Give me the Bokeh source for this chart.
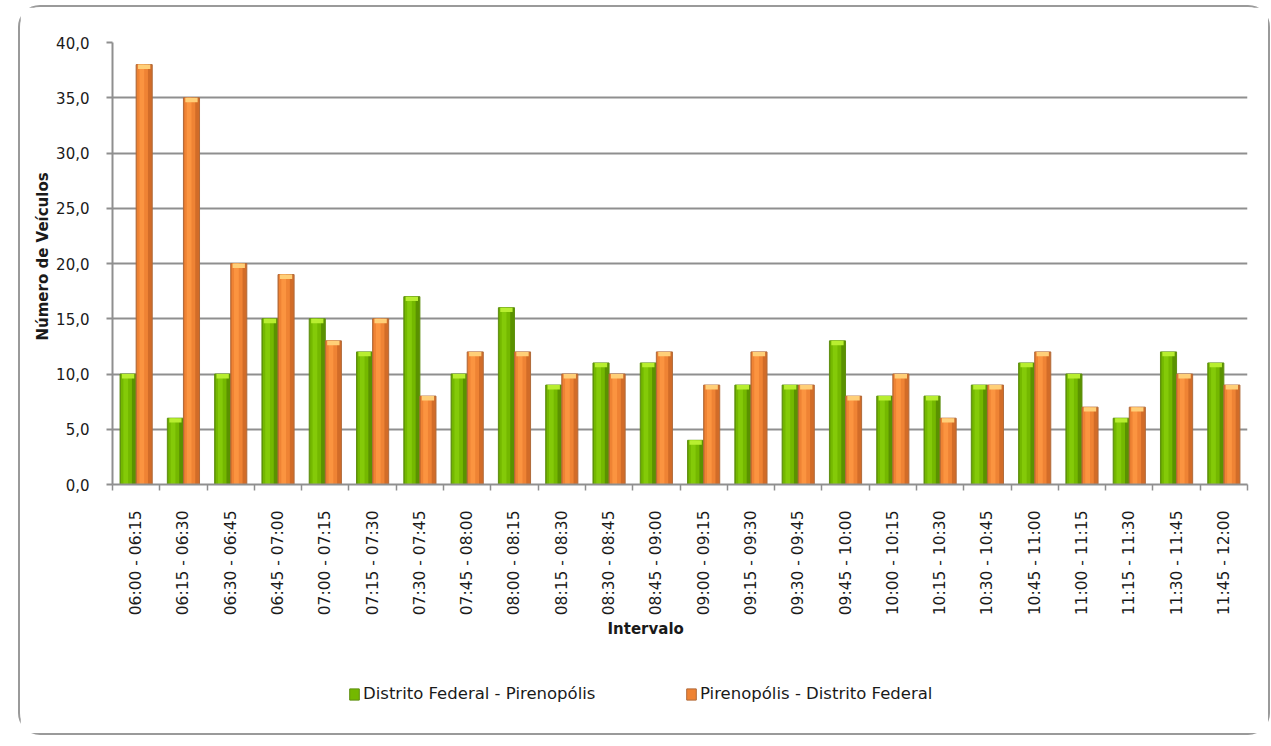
import math
from bokeh.plotting import figure
from bokeh.layouts import column
from bokeh.models import Range1d, FixedTicker, Legend, LegendItem, Title
from bokeh.embed import file_html
from bokeh.resources import INLINE

# ---------------- data ----------------
categories = [
    "06:00 - 06:15", "06:15 - 06:30", "06:30 - 06:45", "06:45 - 07:00",
    "07:00 - 07:15", "07:15 - 07:30", "07:30 - 07:45", "07:45 - 08:00",
    "08:00 - 08:15", "08:15 - 08:30", "08:30 - 08:45", "08:45 - 09:00",
    "09:00 - 09:15", "09:15 - 09:30", "09:30 - 09:45", "09:45 - 10:00",
    "10:00 - 10:15", "10:15 - 10:30", "10:30 - 10:45", "10:45 - 11:00",
    "11:00 - 11:15", "11:15 - 11:30", "11:30 - 11:45", "11:45 - 12:00",
]
df_pirenopolis = [10, 6, 10, 15, 15, 12, 17, 10, 16, 9, 11, 11, 4, 9, 9, 13, 8, 8, 9, 11, 10, 6, 12, 11]
pirenopolis_df = [38, 35, 20, 19, 13, 15, 8, 12, 12, 10, 10, 12, 9, 12, 9, 8, 10, 6, 9, 12, 7, 7, 10, 9]
series_names = ["Distrito Federal - Pirenopólis", "Pirenopólis - Distrito Federal"]
y_ticks = [0, 5, 10, 15, 20, 25, 30, 35, 40]
y_tick_labels = ["0,0", "5,0", "10,0", "15,0", "20,0", "25,0", "30,0", "35,0", "40,0"]
x_title = "Intervalo"
y_title = "Número de Veículos"

# ---------------- style ----------------
FONT = "DejaVu Sans"
GRID = "#8f8f8f"
TXT = "#1a1a1a"
GREEN = dict(edge="#5f8f10", dark="#5a9200", light="#74b800", hi="#84ca08", cap="#b8ee30")
ORANGE = dict(edge="#b06a3a", dark="#d26c28", light="#ef8334", hi="#fb9440", cap="#ffcf78")

n = len(categories)
centers = [i + 0.5 for i in range(n)]
bounds = [float(i) for i in range(n + 1)]

p = figure(
    width=1248, height=650,
    x_range=Range1d(0, n), y_range=Range1d(0, 40),
    output_backend="svg", toolbar_location=None,
    min_border_left=92, min_border_right=21, min_border_top=35, min_border_bottom=173,
)
p.outline_line_color = None
p.background_fill_color = "white"
p.border_fill_color = "white"

# x axis: labels at centres, ticks at category boundaries
xa = p.xaxis[0]
xa.ticker = FixedTicker(ticks=centers, minor_ticks=bounds)
xa.major_label_overrides = {c: lab for c, lab in zip(centers, categories)}
xa.major_tick_out = 0
xa.major_tick_in = 0
xa.minor_tick_out = 6
xa.minor_tick_in = 0
xa.minor_tick_line_color = GRID
xa.minor_tick_line_width = 1.5
xa.axis_line_color = GRID
xa.axis_line_width = 2
xa.major_label_orientation = math.pi / 2
xa.major_label_standoff = 20
xa.major_label_text_font = FONT
xa.major_label_text_font_size = "15.5px"
xa.major_label_text_color = TXT

ya = p.yaxis[0]
ya.ticker = FixedTicker(ticks=y_ticks, minor_ticks=[])
ya.major_label_overrides = {t: lab for t, lab in zip(y_ticks, y_tick_labels)}
ya.major_tick_out = 6
ya.major_tick_in = 0
ya.minor_tick_out = 0
ya.minor_tick_in = 0
ya.major_tick_line_color = GRID
ya.major_tick_line_width = 2
ya.axis_line_color = GRID
ya.axis_line_width = 2
ya.major_label_standoff = 17
ya.major_label_text_font = FONT
ya.major_label_text_font_size = "15px"
ya.major_label_text_color = TXT

p.xgrid.visible = False
p.ygrid.ticker = FixedTicker(ticks=y_ticks, minor_ticks=[])
p.ygrid.grid_line_color = GRID
p.ygrid.grid_line_width = 2

# ---------------- bars ----------------
half = 0.17
bw = 0.34

def draw_series(values, offset, c):
    xs = [x + offset for x in centers]
    p.vbar(x=xs, top=values, bottom=0, width=bw, fill_color=c["dark"],
           line_color=c["edge"], line_width=1)
    p.vbar(x=[x - 0.035 for x in xs], top=values, bottom=0, width=0.23,
           fill_color=c["light"], line_color=None)
    p.vbar(x=[x - 0.05 for x in xs], top=values, bottom=0, width=0.10,
           fill_color=c["hi"], line_color=None)
    p.vbar(x=xs, top=values, bottom=[v - 0.4 for v in values], width=0.26,
           fill_color=c["cap"], line_color=None)

draw_series(df_pirenopolis, -half, GREEN)
draw_series(pirenopolis_df, half, ORANGE)

# ---------------- axis titles (side panels) ----------------
p.add_layout(Title(text=y_title, align="left", offset=144, standoff=4,
                   vertical_align="bottom", text_font=FONT, text_font_style="bold",
                   text_font_size="15px", text_color=TXT), "left")
p.add_layout(Title(text=x_title, align="left", offset=495, standoff=2,
                   vertical_align="top", text_font=FONT, text_font_style="bold",
                   text_font_size="15px", text_color=TXT), "below")

# ---------------- legend strip ----------------
pl = figure(width=1248, height=76, x_range=Range1d(0, 1), y_range=Range1d(0, 1),
            x_axis_type=None, y_axis_type=None, output_backend="svg",
            toolbar_location=None, min_border=0)
pl.outline_line_color = None
pl.xgrid.visible = False
pl.ygrid.visible = False
# legend proxies (kept outside the visible range; only their swatches show)
lg = pl.vbar(x=[-1.0], top=[0.0], width=0.1, fill_color=GREEN["light"], line_color=GREEN["edge"])
lo = pl.vbar(x=[-1.0], top=[0.0], width=0.1, fill_color=ORANGE["light"], line_color=ORANGE["edge"])
legend = Legend(
    items=[LegendItem(label=series_names[0], renderers=[lg]),
           LegendItem(label=series_names[1], renderers=[lo])],
    location=(236, 30), orientation="horizontal",
    padding=0, margin=0, spacing=11, label_width=311,
    glyph_width=12, glyph_height=14, label_standoff=3,
    label_text_font=FONT, label_text_font_size="16.5px", label_text_color=TXT,
    border_line_color=None, background_fill_alpha=0,
)
pl.add_layout(legend)

layout = column(p, pl, spacing=0)
layout.margin = (5, 0, 0, 18)
layout.styles = {"border": "2px solid #9a9a9a", "border-radius": "22px",
                 "background-color": "white"}

open("out.html", "w").write(file_html(layout, INLINE))
